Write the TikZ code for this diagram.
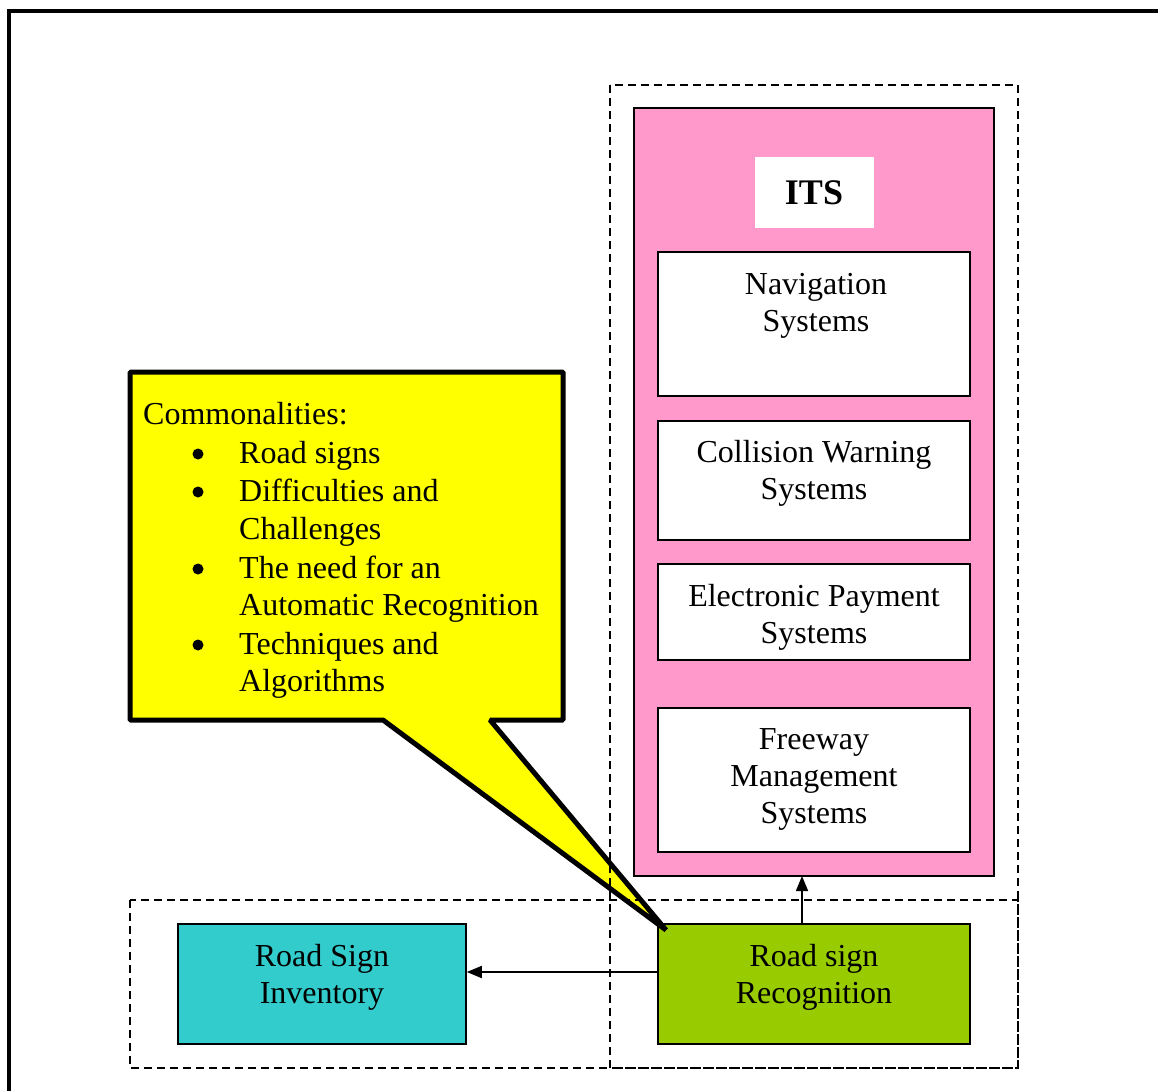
\documentclass[tikz,border=0pt]{standalone}
\usepackage{fontspec}
\setmainfont{Liberation Serif}
\usetikzlibrary{arrows.meta}
\definecolor{itspink}{HTML}{FF99CC}
\definecolor{invteal}{HTML}{33CCCC}
\definecolor{recgreen}{HTML}{99CC00}
\definecolor{callyellow}{HTML}{FFFF00}
\tikzset{
  box/.style={draw=black, line width=1.5pt, fill=white, inner sep=0pt},
  txt/.style={align=center, inner sep=0pt, font=\fontsize{32}{37}\selectfont},
  ltxt/.style={anchor=base west, inner sep=0pt, font=\fontsize{32}{37}\selectfont},
  bul/.style={circle, fill=black, inner sep=0pt, minimum size=11pt},
  dashbox/.style={draw=black, line width=1.8pt, dash pattern=on 8pt off 5pt},
  conn/.style={draw=black, line width=1.6pt, -{Triangle[length=15pt,width=12pt]}},
}
\begin{document}
\begin{tikzpicture}[x=1pt,y=-1pt]
\useasboundingbox (0,0) rectangle (1158,1091);
% outer frame (cut by page edge)
\draw[line width=4pt] (9,1100) -- (9,11) -- (1170,11);
% ITS pink box
\node[box, fill=itspink, minimum width=360pt, minimum height=768pt] (its) at (814,492) {};
\node[fill=white, inner sep=0pt, minimum width=119pt, minimum height=71pt, font=\fontsize{36}{40}\selectfont\bfseries] (itslabel) at (814,192.5) {ITS};
\node[box, minimum width=312pt, minimum height=144pt] (nav) at (814,324) {};
\node[txt] (navt) at (816,305.5) {Navigation\\Systems};
\node[box, minimum width=312pt, minimum height=119pt] (col) at (814,480.5) {};
\node[txt] (colt) at (814,473.5) {Collision Warning\\Systems};
\node[box, minimum width=312pt, minimum height=96pt] (pay) at (814,612) {};
\node[txt] (payt) at (814,617.5) {Electronic Payment\\Systems};
\node[box, minimum width=312pt, minimum height=144pt] (fwy) at (814,780) {};
\node[txt] (fwyt) at (814,779.5) {Freeway\\Management\\Systems};
% bottom boxes
\node[box, fill=invteal, minimum width=288pt, minimum height=120pt] (inv) at (322,984) {};
\node[txt] (invt) at (322,977) {Road Sign\\Inventory};
\node[box, fill=recgreen, minimum width=312pt, minimum height=120pt] (rec) at (814,984) {};
\node[txt] (rect) at (814,977) {Road sign\\Recognition};
% connectors
\coordinate (recup) at (802,924);
\coordinate (itsdown) at (802,876);
\draw[conn] (recup) -- (itsdown);
\draw[conn] (rec.west |- 0,972) -- (inv.east |- 0,972);
% callout
\coordinate (tip) at (666,930);
\draw[line width=5pt, fill=callyellow, line join=bevel] (130,372) -- (563,372) -- (563,720) -- (490,720) -- (tip) -- (383,720) -- (130,720) -- cycle;
\node[ltxt] (c0) at (143,424) {Commonalities:};
\node[bul] (b1) at (198,454) {};
\node[ltxt] (c1) at (239,463) {Road signs};
\node[bul] (b2) at (198,492) {};
\node[ltxt] (c2) at (239,501) {Difficulties and};
\node[ltxt] (c3) at (239,539) {Challenges};
\node[bul] (b3) at (198,569) {};
\node[ltxt] (c4) at (239,578) {The need for an};
\node[ltxt] (c5) at (239,615) {Automatic Recognition};
\node[bul] (b4) at (198,645) {};
\node[ltxt] (c6) at (239,654) {Techniques and};
\node[ltxt] (c7) at (239,691) {Algorithms};
% dashed grouping boxes
\draw[dashbox] (610,85) rectangle (1018,1068);
\draw[dashbox] (130,900) rectangle (1018,1068);
\end{tikzpicture}
\end{document}
